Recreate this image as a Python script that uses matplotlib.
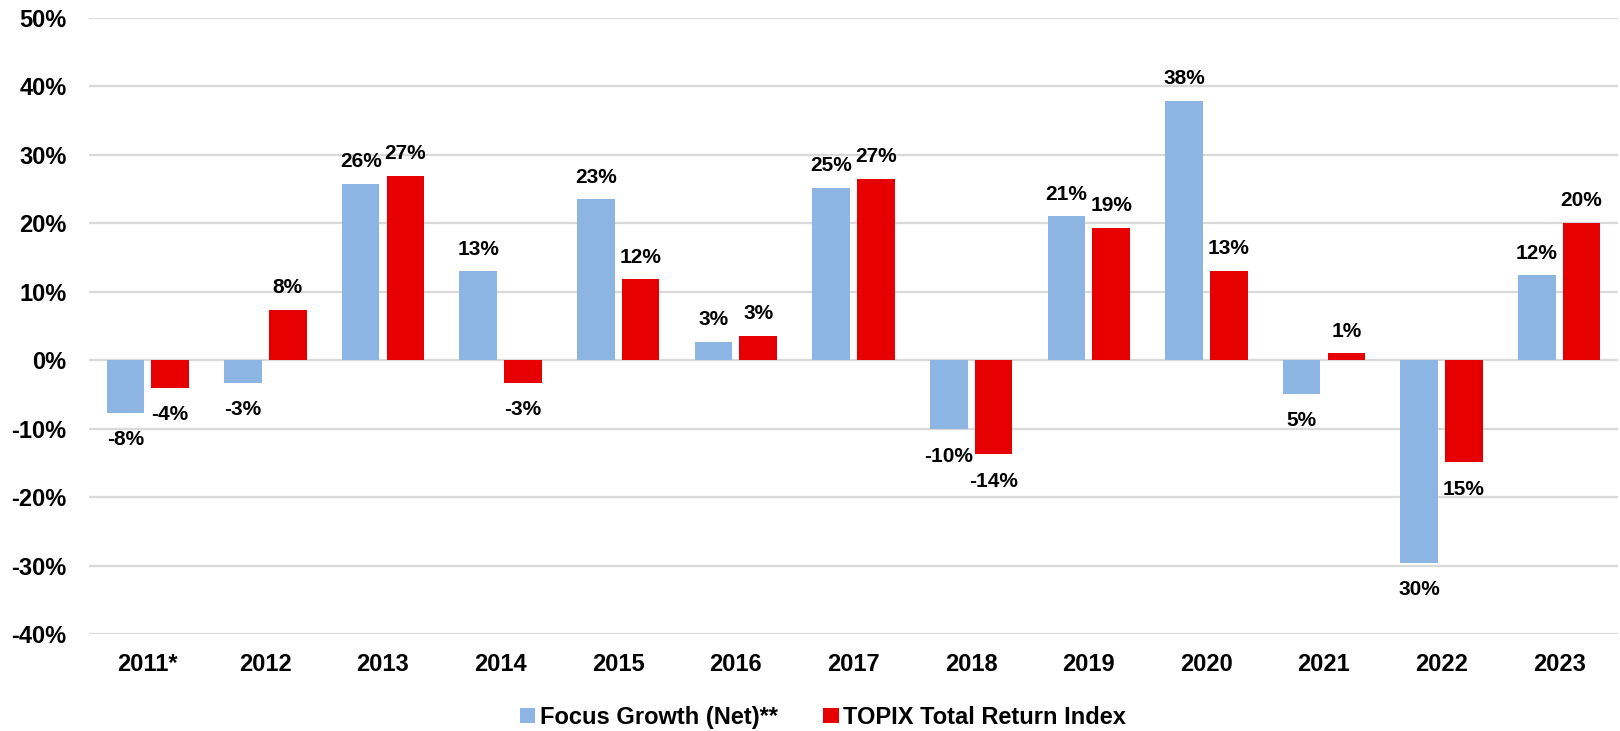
import numpy as np
import matplotlib.pyplot as plt

plt.rcParams['font.family'] = ['Liberation Sans', 'DejaVu Sans']
plt.rcParams['font.weight'] = 'bold'

# DATA ------------------------------------------------------------------------
years = ['2011*', '2012', '2013', '2014', '2015', '2016', '2017',
         '2018', '2019', '2020', '2021', '2022', '2023']
focus = [-7.7, -3.3, 25.8, 13.0, 23.5, 2.7, 25.2, -10.1, 21.0, 37.9, -4.9, -29.6, 12.4]
topix = [-4.0, 7.4, 26.9, -3.3, 11.8, 3.6, 26.5, -13.7, 19.3, 13.1, 1.0, -14.9, 20.1]
focus_lbl = ['-8%', '-3%', '26%', '13%', '23%', '3%', '25%', '-10%', '21%', '38%', '5%', '30%', '12%']
topix_lbl = ['-4%', '8%', '27%', '-3%', '12%', '3%', '27%', '-14%', '19%', '13%', '1%', '15%', '20%']
yticks = [-40, -30, -20, -10, 0, 10, 20, 30, 40, 50]

c_blue = '#8DB5E4'
c_red = '#E60000'

# PLOT ------------------------------------------------------------------------
fig = plt.figure(figsize=(16.2, 7.31), dpi=100)
ax = fig.add_axes([0.0549, 0.1327, 0.9439, 0.8427])

x = np.arange(len(years))
w = 0.32
b1 = ax.bar(x - 0.19, focus, w, color=c_blue, label='Focus Growth (Net)**', zorder=3)
b2 = ax.bar(x + 0.19, topix, w, color=c_red, label='TOPIX Total Return Index', zorder=3)

# value labels: above positive bars, below negative ones
for bars, vals, lbls in [(b1, focus, focus_lbl), (b2, topix, topix_lbl)]:
    for r, v, s in zip(bars, vals, lbls):
        off = 16 if v >= 0 else -19.5
        ax.annotate(s, (r.get_x() + r.get_width() / 2, v), xytext=(0, off),
                    textcoords='offset points', ha='center', va='center',
                    fontsize=15, fontweight='bold')

ax.set_xlim(-0.5, len(years) - 0.5)
ax.set_ylim(-40, 50)
ax.set_yticks(yticks)
ax.set_yticklabels(['{}%'.format(t) for t in yticks])
ax.set_xticks(x)
ax.set_xticklabels(years)
ax.tick_params(axis='both', length=0, labelsize=17)
ax.tick_params(axis='y', pad=16)
ax.tick_params(axis='x', pad=14)
ax.grid(axis='y', color='#D9D9D9', linewidth=1.6, zorder=0)
ax.set_axisbelow(True)
for sp in ax.spines.values():
    sp.set_visible(False)

fig.legend(handles=[b1, b2], loc='center', bbox_to_anchor=(0.508, 0.019),
           ncol=2, frameon=False, fontsize=17, handlelength=0.64,
           handleheight=0.64, handletextpad=0.2, columnspacing=1.95)

fig.savefig('out.png', dpi=100)
